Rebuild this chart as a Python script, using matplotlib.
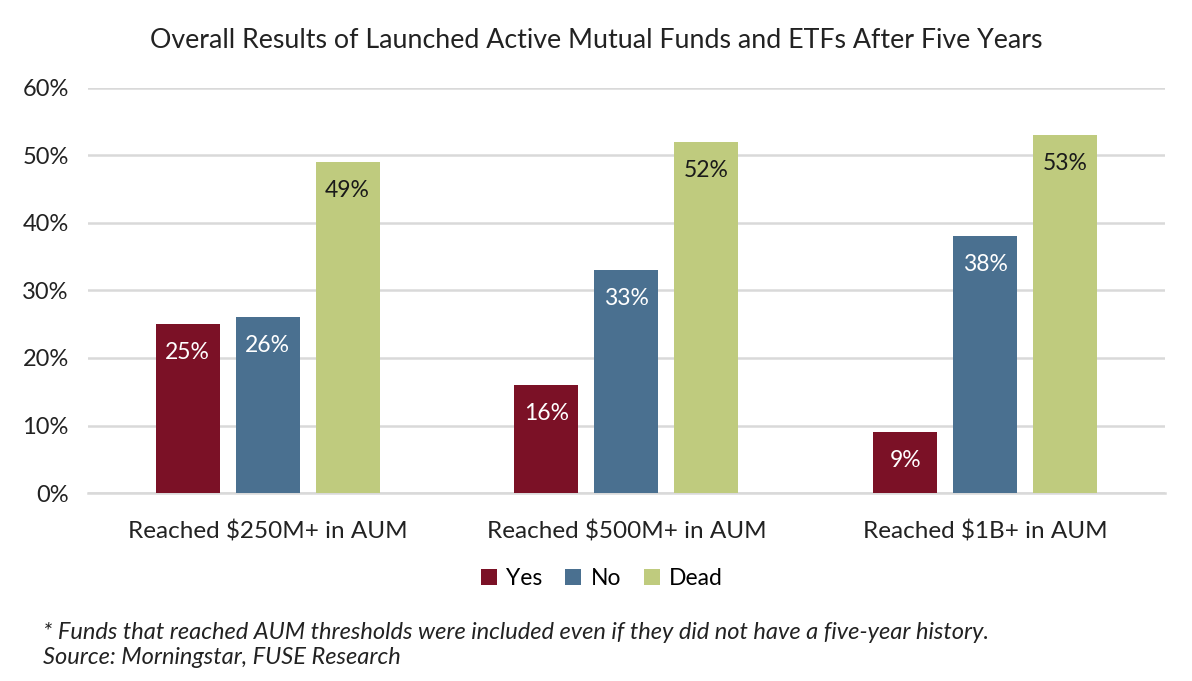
import matplotlib.pyplot as plt
import numpy as np

plt.rcParams['font.family'] = ['Lato', 'DejaVu Sans']

categories = ['Reached $250M+ in AUM', 'Reached $500M+ in AUM', 'Reached $1B+ in AUM']
yes = [25, 16, 9]
no = [26, 33, 38]
dead = [49, 52, 53]
series_names = ['Yes', 'No', 'Dead']
colors = ['#7B1126', '#4A7090', '#BFCB7E']
label_colors = ['white', 'white', '#1a1a1a']

fig = plt.figure(figsize=(11.92, 6.81), dpi=100)
ax = fig.add_axes([0.074, 0.276, 0.903, 0.595])

x = np.arange(len(categories))
w = 0.178
off = 0.223
for i, (vals, name) in enumerate(zip([yes, no, dead], series_names)):
    bars = ax.bar(x + (i - 1) * off, vals, w, color=colors[i], label=name, zorder=3)
    for b, v in zip(bars, vals):
        ax.text(b.get_x() + b.get_width() / 2, v - 4.2, f'{v}%', ha='center', va='center',
                color=label_colors[i], fontsize=16.5, zorder=4)

ax.set_xlim(-0.5, 2.5)
ax.set_ylim(0, 60)
ax.set_yticks(range(0, 61, 10))
ax.set_yticklabels([f'{t}%' for t in range(0, 61, 10)], fontsize=17, color='#222222')
ax.set_xticks(x)
ax.set_xticklabels(categories, fontsize=17.5, color='#222222')
ax.tick_params(length=0)
ax.tick_params(axis='y', pad=14)
ax.tick_params(axis='x', pad=20)
ax.yaxis.grid(True, color='#D9D9D9', linewidth=1.8, zorder=0)
for s in ['top', 'right', 'left']:
    ax.spines[s].set_visible(False)
ax.spines['bottom'].set_color('#D9D9D9')
ax.spines['bottom'].set_linewidth(1.8)

fig.text(0.5, 0.94, 'Overall Results of Launched Active Mutual Funds and ETFs After Five Years',
         ha='center', va='center', fontsize=19.3, color='#222222')

fig.legend(loc='center', bbox_to_anchor=(0.505, 0.150), ncol=3, frameon=False,
           fontsize=16.5, handlelength=0.7, handleheight=0.7, handletextpad=0.4, columnspacing=1.0)

fig.text(0.036, 0.071, '* Funds that reached AUM thresholds were included even if they did not have a five-year history.',
         ha='left', va='center', fontsize=17, style='italic', color='#222222')
fig.text(0.036, 0.035, 'Source: Morningstar, FUSE Research',
         ha='left', va='center', fontsize=17, style='italic', color='#222222')

fig.savefig('out.png', dpi=100)
